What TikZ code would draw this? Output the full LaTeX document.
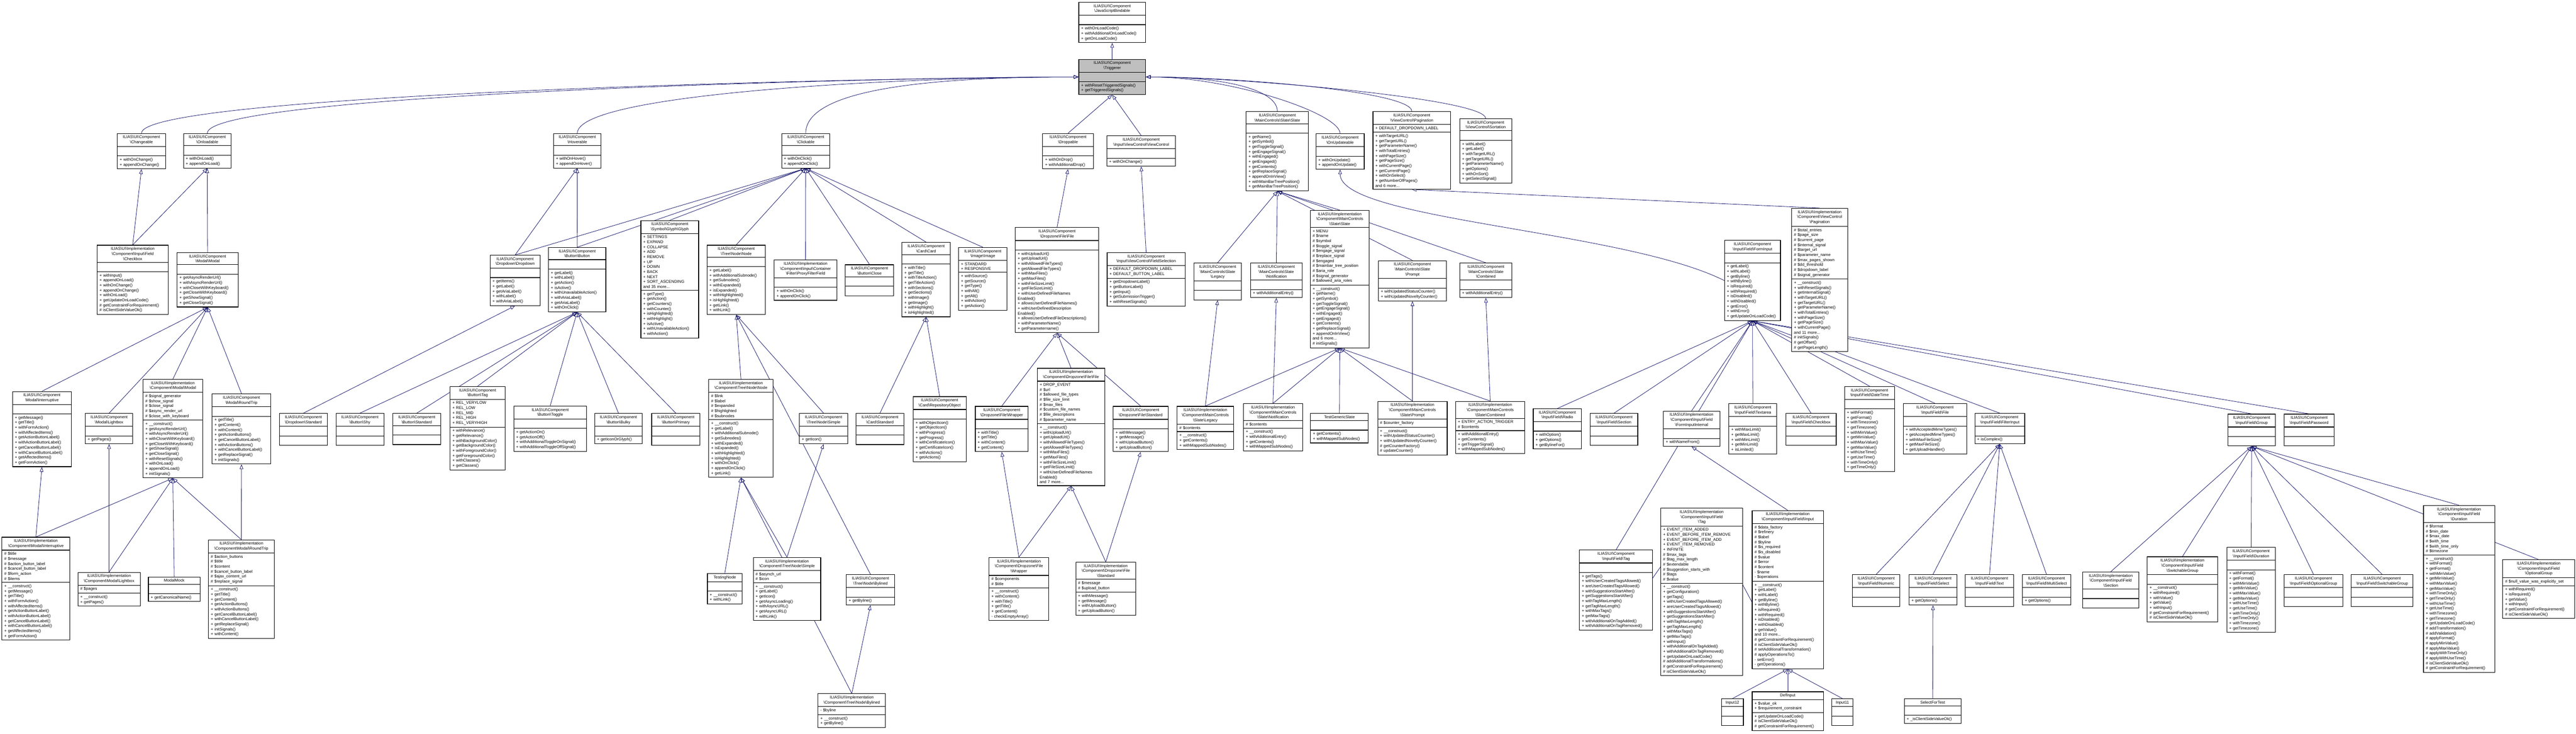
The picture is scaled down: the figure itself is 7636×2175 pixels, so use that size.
\documentclass[tikz,border=0pt]{standalone}
\usepackage{fontspec}
\setmainfont{Liberation Sans}
\usetikzlibrary{shapes.multipart,arrows.meta,backgrounds}
\definecolor{edge}{HTML}{191970}
\newcommand\bs{\textbackslash}
\newcommand\CC{ILIAS\bs UI\bs Component}
\newcommand\II{ILIAS\bs UI\bs Implementation}
\newcommand\E{\rule{0pt}{4.5pt}}
\tikzset{
 ub/.style={draw=black,line width=0.5pt,fill=white,rectangle split,rectangle split parts=3,
  inner xsep=2pt,inner ysep=1.5pt,align=left,font=\fontsize{3.4pt}{4.2pt}\selectfont},
 gray/.style={fill=black!25},
 inh/.style={draw=edge,line width=0.35pt,-{Triangle[open,length=4pt,width=3pt]}}
}
\newcommand\ub[8][]{\node[ub,#1,anchor=north west,text width=\dimexpr 0.01cm*#5-4pt\relax] (#2) at (#3,#4) {\centering #6\par\nodepart{two}#7\nodepart{three}#8};}
\begin{document}
\begin{tikzpicture}[x=0.01cm,y=-0.01cm]
\useasboundingbox (0,0) rectangle (7636,2175);
\begin{scope}[on background layer]
\fill[white] (0,0) rectangle (7636,2175);
\end{scope}
% top
\ub{jsb}{3197}{6}{198}{\CC\\\bs JavaScriptBindable}{\E}{+ withOnLoadCode()\\+ withAdditionalOnLoadCode()\\+ getOnLoadCode()}
\ub[gray]{trig}{3197}{175}{198}{\CC\\\bs Triggerer}{\E}{+ withResetTriggeredSignals()\\+ getTriggeredSignals()}
\ub{chg}{347}{395}{143}{\CC\\\bs Changeable}{\E}{+ withOnChange()\\+ appendOnChange()}
\ub{onl}{543}{395}{141}{\CC\\\bs Onloadable}{\E}{+ withOnLoad()\\+ appendOnLoad()}
\ub{hov}{1640}{395}{141}{\CC\\\bs Hoverable}{\E}{+ withOnHover()\\+ appendOnHover()}
\ub{clk}{2316}{395}{143}{\CC\\\bs Clickable}{\E}{+ withOnClick()\\+ appendOnClick()}
\ub{drp}{3090}{395}{150}{\CC\\\bs Droppable}{\E}{+ withOnDrop()\\+ withAdditionalDrop()}
\ub{ivc}{3280}{402}{204}{\CC\\\bs Input\bs ViewControl\bs ViewControl}{\E}{+ withOnChange()}
\ub{slate}{3693}{330}{185}{\CC\\\bs MainControls\bs Slate\bs Slate}{\E}{+ getName()\\+ getSymbol()\\+ getToggleSignal()\\+ getEngageSignal()\\+ withEngaged()\\+ getEngaged()\\+ getContents()\\+ getReplaceSignal()\\+ appendOnInView()\\+ withMainBarTreePosition()\\+ getMainBarTreePosition()}
\ub{onu}{3900}{396}{143}{\CC\\\bs OnUpdateable}{\E}{+ withOnUpdate()\\+ appendOnUpdate()}
\ub{pag}{4069}{330}{230}{\CC\\\bs ViewControl\bs Pagination}{+ DEFAULT\_DROPDOWN\_LABEL}{+ withTargetURL()\\+ getTargetURL()\\+ getParameterName()\\+ withTotalEntries()\\+ withPageSize()\\+ getPageSize()\\+ withCurrentPage()\\+ getCurrentPage()\\+ withOnSelect()\\+ getNumberOfPages()\\and 6 more...}
\ub{sort}{4326}{351}{154}{\CC\\\bs ViewControl\bs Sortation}{\E}{+ withLabel()\\+ getLabel()\\+ withTargetURL()\\+ getTargetURL()\\+ getParameterName()\\+ getOptions()\\+ withOnSort()\\+ getSelectSignal()}
% second row
\ub{ichk}{287}{726}{211}{\II\\\bs Component\bs Input\bs Field\\\bs Checkbox}{\E}{+ withInput()\\+ appendOnLoad()\\+ withOnChange()\\+ appendOnChange()\\+ withOnLoad()\\+ getUpdateOnLoadCode()\\\# getConstraintForRequirement()\\\# isClientSideValueOk()}
\ub{modal}{524}{748}{181}{\CC\\\bs Modal\bs Modal}{\E}{+ getAsyncRenderUrl()\\+ withAsyncRenderUrl()\\+ withCloseWithKeyboard()\\+ getCloseWithKeyboard()\\+ getShowSignal()\\+ getCloseSignal()}
\ub{dd}{1452}{756}{148}{\CC\\\bs Dropdown\bs Dropdown}{\E}{+ getItems()\\+ getLabel()\\+ getAriaLabel()\\+ withLabel()\\+ withAriaLabel()}
\ub{btn}{1625}{733}{170}{\CC\\\bs Button\bs Button}{\E}{+ getLabel()\\+ withLabel()\\+ getAction()\\+ isActive()\\+ withUnavailableAction()\\+ withAriaLabel()\\+ getAriaLabel()\\+ withOnClick()}
\ub{glyph}{1899}{653}{171}{\CC\\\bs Symbol\bs Glyph\bs Glyph}{+ SETTINGS\\+ EXPAND\\+ COLLAPSE\\+ ADD\\+ REMOVE\\+ UP\\+ DOWN\\+ BACK\\+ NEXT\\+ SORT\_ASCENDING\\and 35 more...}{+ getType()\\+ getAction()\\+ getCounters()\\+ withCounter()\\+ isHighlighted()\\+ withHighlight()\\+ isActive()\\+ withUnavailableAction()\\+ withAction()}
\ub{tnode}{2095}{726}{173}{\CC\\\bs Tree\bs Node\bs Node}{\E}{+ getLabel()\\+ withAdditionalSubnode()\\+ getSubnodes()\\+ withExpanded()\\+ isExpanded()\\+ withHighlighted()\\+ isHighlighted()\\+ getLink()\\+ withLink()}
\ub{pff}{2294}{770}{186}{\II\\\bs Component\bs Input\bs Container\\\bs Filter\bs ProxyFilterField}{\E}{+ withOnClick()\\+ appendOnClick()}
\ub{bclose}{2505}{784}{143}{\CC\\\bs Button\bs Close}{\E}{\E}
\ub{card}{2673}{718}{143}{\CC\\\bs Card\bs Card}{\E}{+ withTitle()\\+ getTitle()\\+ withTitleAction()\\+ getTitleAction()\\+ withSections()\\+ getSections()\\+ withImage()\\+ getImage()\\+ withHighlight()\\+ isHighlighted()}
\ub{img}{2841}{733}{143}{\CC\\\bs Image\bs Image}{+ STANDARD\\+ RESPONSIVE}{+ withSource()\\+ getSource()\\+ getType()\\+ withAlt()\\+ getAlt()\\+ withAction()\\+ getAction()}
\ub{dzf}{3009}{674}{247}{\CC\\\bs Dropzone\bs File\bs File}{\E}{+ withUploadUrl()\\+ getUploadUrl()\\+ withAllowedFileTypes()\\+ getAllowedFileTypes()\\+ withMaxFiles()\\+ getMaxFiles()\\+ withFileSizeLimit()\\+ getFileSizeLimit()\\+ withUserDefinedFileNames\\Enabled()\\+ allowsUserDefinedFileNames()\\+ withUserDefinedDescription\\Enabled()\\+ allowsUserDefinedFileDescriptions()\\+ withParameterName()\\+ getParametername()}
\ub{fsel}{3281}{748}{231}{\CC\\\bs Input\bs ViewControl\bs FieldSelection}{+ DEFAULT\_DROPDOWN\_LABEL\\+ DEFAULT\_BUTTON\_LABEL}{+ getDropdownLabel()\\+ getButtonLabel()\\+ getInput()\\+ getSubmissionTrigger()\\+ withResetSignals()}
\ub{islate}{3883}{623}{175}{\II\\\bs Component\bs MainControls\\\bs Slate\bs Slate}{+ MENU\\\# \$name\\\# \$symbol\\\# \$toggle\_signal\\\# \$engage\_signal\\\# \$replace\_signal\\\# \$engaged\\\# \$mainbar\_tree\_position\\\# \$aria\_role\\\# \$signal\_generator\\\# \$allowed\_aria\_roles}{+ \_\_construct()\\+ getName()\\+ getSymbol()\\+ getToggleSignal()\\+ getEngageSignal()\\+ withEngaged()\\+ getEngaged()\\+ getContents()\\+ getReplaceSignal()\\+ appendOnInView()\\and 6 more...\\\# initSignals()}
\ub{sleg}{3538}{779}{141}{\CC\\\bs MainControls\bs Slate\\\bs Legacy}{\E}{\E}
\ub{snot}{3706}{779}{153}{\CC\\\bs MainControls\bs Slate\\\bs Notification}{\E}{+ withAdditionalEntry()}
\ub{sprm}{4085}{772}{202}{\CC\\\bs MainControls\bs Slate\\\bs Prompt}{\E}{+ withUpdatedStatusCounter()\\+ withUpdatedNoveltyCounter()}
\ub{scmb}{4326}{779}{155}{\CC\\\bs MainControls\bs Slate\\\bs Combined}{\E}{+ withAdditionalEntry()}
\ub{fin}{5111}{712}{166}{\CC\\\bs Input\bs Field\bs FormInput}{\E}{+ getLabel()\\+ withLabel()\\+ getByline()\\+ withByline()\\+ isRequired()\\+ withRequired()\\+ isDisabled()\\+ withDisabled()\\+ getError()\\+ withError()\\+ getUpdateOnLoadCode()}
\ub{ipag}{5310}{617}{166}{\II\\\bs Component\bs ViewControl\\\bs Pagination}{\# \$total\_entries\\\# \$page\_size\\\# \$current\_page\\\# \$internal\_signal\\\# \$target\_url\\\# \$parameter\_name\\\# \$max\_pages\_shown\\\# \$dd\_threshold\\\# \$dropdown\_label\\\# \$signal\_generator}{+ \_\_construct()\\+ withResetSignals()\\+ getInternalSignal()\\+ withTargetURL()\\+ getTargetURL()\\+ getParameterName()\\+ withTotalEntries()\\+ withPageSize()\\+ getPageSize()\\+ withCurrentPage()\\and 11 more...\\\# initSignals()\\\# getOffset()\\\# getPageLength()}
% third row
\ub{iint}{36}{1160}{175}{\CC\\\bs Modal\bs Interruptive}{\E}{+ getMessage()\\+ getTitle()\\+ withFormAction()\\+ withAffectedItems()\\+ getActionButtonLabel()\\+ withActionButtonLabel()\\+ getCancelButtonLabel()\\+ withCancelButtonLabel()\\+ getAffectedItems()\\+ getFormAction()}
\ub{lbx}{252}{1225}{141}{\CC\\\bs Modal\bs Lightbox}{\E}{+ getPages()}
\ub{imodal}{423}{1124}{177}{\II\\\bs Component\bs Modal\bs Modal}{\# \$signal\_generator\\\# \$show\_signal\\\# \$close\_signal\\\# \$async\_render\_url\\\# \$close\_with\_keyboard}{+ \_\_construct()\\+ getAsyncRenderUrl()\\+ withAsyncRenderUrl()\\+ withCloseWithKeyboard()\\+ getCloseWithKeyboard()\\+ getShowSignal()\\+ getCloseSignal()\\+ withResetSignals()\\+ withOnLoad()\\+ appendOnLoad()\\+ initSignals()}
\ub{rtrip}{628}{1167}{174}{\CC\\\bs Modal\bs RoundTrip}{\E}{+ getTitle()\\+ getContent()\\+ withContent()\\+ getActionButtons()\\+ getCancelButtonLabel()\\+ withActionButtons()\\+ withCancelButtonLabel()\\+ getReplaceSignal()\\+ initSignals()}
\ub{ddstd}{827}{1225}{143}{\CC\\\bs Dropdown\bs Standard}{\E}{\E}
\ub{shy}{995}{1225}{142}{\CC\\\bs Button\bs Shy}{\E}{\E}
\ub{bstd}{1164}{1225}{141}{\CC\\\bs Button\bs Standard}{\E}{\E}
\ub{tag}{1333}{1145}{164}{\CC\\\bs Button\bs Tag}{+ REL\_VERYLOW\\+ REL\_LOW\\+ REL\_MID\\+ REL\_HIGH\\+ REL\_VERYHIGH}{+ withRelevance()\\+ getRelevance()\\+ withBackgroundColor()\\+ getBackgroundColor()\\+ withForegroundColor()\\+ getForegroundColor()\\+ withClasses()\\+ getClasses()}
\ub{tgl}{1522}{1203}{216}{\CC\\\bs Button\bs Toggle}{\E}{+ getActionOn()\\+ getActionOff()\\+ withAdditionalToggleOnSignal()\\+ withAdditionalToggleOffSignal()}
\ub{blk}{1762}{1225}{141}{\CC\\\bs Button\bs Bulky}{\E}{+ getIconOrGlyph()}
\ub{prim}{1931}{1225}{143}{\CC\\\bs Button\bs Primary}{\E}{\E}
\ub{inode}{2100}{1124}{191}{\II\\\bs Component\bs Tree\bs Node\bs Node}{\# \$link\\\# \$label\\\# \$expanded\\\# \$highlighted\\\# \$subnodes}{+ \_\_construct()\\+ getLabel()\\+ withAdditionalSubnode()\\+ getSubnodes()\\+ withExpanded()\\+ isExpanded()\\+ withHighlighted()\\+ isHighlighted()\\+ withOnClick()\\+ appendOnClick()\\+ getLink()}
\ub{tsim}{2369}{1225}{143}{\CC\\\bs Tree\bs Node\bs Simple}{\E}{+ getIcon()}
\ub{cstd}{2536}{1225}{143}{\CC\\\bs Card\bs Standard}{\E}{\E}
\ub{crep}{2706}{1175}{157}{\CC\\\bs Card\bs RepositoryObject}{\E}{+ withObjectIcon()\\+ getObjectIcon()\\+ withProgress()\\+ getProgress()\\+ withCertificateIcon()\\+ getCertificateIcon()\\+ withActions()\\+ getActions()}
\ub{dzw}{2890}{1204}{157}{\CC\\\bs Dropzone\bs File\bs Wrapper}{\E}{+ withTitle()\\+ getTitle()\\+ withContent()\\+ getContent()}
\ub{idzf}{3074}{1091}{200}{\II\\\bs Component\bs Dropzone\bs File\bs File}{+ DROP\_EVENT\\\# \$url\\\# \$allowed\_file\_types\\\# \$file\_size\_limit\\\# \$max\_files\\\# \$custom\_file\_names\\\# \$file\_descriptions\\\# \$parameter\_name}{+ \_\_construct()\\+ withUploadUrl()\\+ getUploadUrl()\\+ withAllowedFileTypes()\\+ getAllowedFileTypes()\\+ withMaxFiles()\\+ getMaxFiles()\\+ withFileSizeLimit()\\+ getFileSizeLimit()\\+ withUserDefinedFileNames\\Enabled()\\and 7 more...}
\ub{dzs}{3299}{1204}{163}{\CC\\\bs Dropzone\bs File\bs Standard}{\E}{+ withMessage()\\+ getMessage()\\+ withUploadButton()\\+ getUploadButton()}
\ub{ileg}{3488}{1204}{168}{\II\\\bs Component\bs MainControls\\\bs Slate\bs Legacy}{\# \$contents}{+ \_\_construct()\\+ getContents()\\+ withMappedSubNodes()}
\ub{inot}{3685}{1196}{175}{\II\\\bs Component\bs MainControls\\\bs Slate\bs Notification}{\# \$contents}{+ \_\_construct()\\+ withAdditionalEntry()\\+ getContents()\\+ withMappedSubNodes()}
\ub{tgs}{3884}{1225}{171}{TestGenericSlate}{\E}{+ getContents()\\+ withMappedSubNodes()}
\ub{iprm}{4083}{1189}{206}{\II\\\bs Component\bs MainControls\\\bs Slate\bs Prompt}{\# \$counter\_factory}{+ \_\_construct()\\+ withUpdatedStatusCounter()\\+ withUpdatedNoveltyCounter()\\\# getCounterFactory()\\\# updateCounter()}
\ub{icmb}{4314}{1189}{205}{\II\\\bs Component\bs MainControls\\\bs Slate\bs Combined}{+ ENTRY\_ACTION\_TRIGGER\\\# \$contents}{+ withAdditionalEntry()\\+ getContents()\\+ getTriggerSignal()\\+ withMappedSubNodes()}
\ub{radio}{4544}{1211}{143}{\CC\\\bs Input\bs Field\bs Radio}{\E}{+ withOption()\\+ getOptions()\\+ getBylineFor()}
\ub{sect}{4713}{1225}{141}{\CC\\\bs Input\bs Field\bs Section}{\E}{\E}
\ub{fii}{4930}{1218}{167}{\II\\\bs Component\bs Input\bs Field\\\bs FormInputInternal}{\E}{+ withNameFrom()}
\ub{txa}{5124}{1196}{142}{\CC\\\bs Input\bs Field\bs Textarea}{\E}{+ withMaxLimit()\\+ getMaxLimit()\\+ withMinLimit()\\+ getMinLimit()\\+ isLimited()}
\ub{fchk}{5293}{1225}{149}{\CC\\\bs Input\bs Field\bs Checkbox}{\E}{\E}
\ub{dtm}{5467}{1145}{148}{\CC\\\bs Input\bs Field\bs DateTime}{\E}{+ withFormat()\\+ getFormat()\\+ withTimezone()\\+ getTimezone()\\+ withMinValue()\\+ getMinValue()\\+ withMaxValue()\\+ getMaxValue()\\+ withUseTime()\\+ getUseTime()\\+ withTimeOnly()\\+ getTimeOnly()}
\ub{ffile}{5641}{1196}{188}{\CC\\\bs Input\bs Field\bs File}{\E}{+ withAcceptedMimeTypes()\\+ getAcceptedMimeTypes()\\+ withMaxFileSize()\\+ getMaxFileSize()\\+ getUploadHandler()}
\ub{flt}{5853}{1225}{148}{\CC\\\bs Input\bs Field\bs FilterInput}{\E}{+ isComplex()}
\ub{grp}{6603}{1227}{141}{\CC\\\bs Input\bs Field\bs Group}{\E}{\E}
\ub{pwd}{6770}{1227}{148}{\CC\\\bs Input\bs Field\bs Password}{\E}{\E}
% bottom rows
\ub{iiint}{5}{1592}{201}{\II\\\bs Component\bs Modal\bs Interruptive}{\# \$title\\\# \$message\\\# \$action\_button\_label\\\# \$cancel\_button\_label\\\# \$form\_action\\\# \$items}{+ \_\_construct()\\+ getMessage()\\+ getTitle()\\+ withFormAction()\\+ withAffectedItems()\\+ getActionButtonLabel()\\+ withActionButtonLabel()\\+ getCancelButtonLabel()\\+ withCancelButtonLabel()\\+ getAffectedItems()\\+ getFormAction()}
\ub{ilbx}{230}{1696}{185}{\II\\\bs Component\bs Modal\bs Lightbox}{\# \$pages}{+ \_\_construct()\\+ getPages()}
\ub{mock}{439}{1710}{153}{ModalMock}{\E}{+ getCanonicalName()}
\ub{irt}{617}{1600}{195}{\II\\\bs Component\bs Modal\bs RoundTrip}{\# \$action\_buttons\\\# \$title\\\# \$content\\\# \$cancel\_button\_label\\\# \$ajax\_content\_url\\\# \$replace\_signal}{+ \_\_construct()\\+ getTitle()\\+ getContent()\\+ getActionButtons()\\+ withActionButtons()\\+ getCancelButtonLabel()\\+ withCancelButtonLabel()\\+ getReplaceSignal()\\+ initSignals()\\+ withContent()}
\ub{tnd}{2096}{1700}{103}{TestingNode}{\E}{+ \_\_construct()\\+ withLink()}
\ub{isim}{2232}{1652}{200}{\II\\\bs Component\bs Tree\bs Node\bs Simple}{\# \$asynch\_url\\\# \$icon}{+ \_\_construct()\\+ getLabel()\\+ getIcon()\\+ getAsyncLoading()\\+ withAsyncURL()\\+ getAsyncURL()\\+ withLink()}
\ub{byl}{2508}{1703}{143}{\CC\\\bs Tree\bs Node\bs Bylined}{\E}{+ getByline()}
\ub{ibyl}{2424}{2056}{200}{\II\\\bs Component\bs Tree\bs Node\bs Bylined}{- \$byline}{+ \_\_construct()\\+ getByline()}
\ub{idzw}{2931}{1652}{177}{\II\\\bs Component\bs Dropzone\bs File\\\bs Wrapper}{\# \$components\\\# \$title}{+ \_\_construct()\\+ withContent()\\+ withTitle()\\+ getTitle()\\+ getContent()\\- checkEmptyArray()}
\ub{idzs}{3188}{1666}{178}{\II\\\bs Component\bs Dropzone\bs File\\\bs Standard}{\# \$message\\\# \$upload\_button}{+ withMessage()\\+ getMessage()\\+ withUploadButton()\\+ getUploadButton()}
\ub{ftag}{4681}{1630}{217}{\CC\\\bs Input\bs Field\bs Tag}{\E}{+ getTags()\\+ withUserCreatedTagsAllowed()\\+ areUserCreatedTagsAllowed()\\+ withSuggestionsStartAfter()\\+ getSuggestionsStartAfter()\\+ withTagMaxLength()\\+ getTagMaxLength()\\+ withMaxTags()\\+ getMaxTags()\\+ withAdditionalOnTagAdded()\\+ withAdditionalOnTagRemoved()}
\ub{iftag}{4922}{1506}{243}{\II\\\bs Component\bs Input\bs Field\\\bs Tag}{+ EVENT\_ITEM\_ADDED\\+ EVENT\_BEFORE\_ITEM\_REMOVE\\+ EVENT\_BEFORE\_ITEM\_ADD\\+ EVENT\_ITEM\_REMOVED\\+ INFINITE\\\# \$max\_tags\\\# \$tag\_max\_length\\\# \$extendable\\\# \$suggestion\_starts\_with\\\# \$tags\\\# \$value}{+ \_\_construct()\\+ getConfiguration()\\+ getTags()\\+ withUserCreatedTagsAllowed()\\+ areUserCreatedTagsAllowed()\\+ withSuggestionsStartAfter()\\+ getSuggestionsStartAfter()\\+ withTagMaxLength()\\+ getTagMaxLength()\\+ withMaxTags()\\+ getMaxTags()\\+ withInput()\\+ withAdditionalOnTagAdded()\\+ withAdditionalOnTagRemoved()\\+ getUpdateOnLoadCode()\\\# addAdditionalTransformations()\\\# getConstraintForRequirement()\\\# isClientSideValueOk()}
\ub{iinp}{5193}{1513}{211}{\II\\\bs Component\bs Input\bs Field\bs Input}{\# \$data\_factory\\\# \$refinery\\\# \$label\\\# \$byline\\\# \$is\_required\\\# \$is\_disabled\\\# \$value\\\# \$error\\\# \$content\\- \$name\\- \$operations}{+ \_\_construct()\\+ getLabel()\\+ withLabel()\\+ getByline()\\+ withByline()\\+ isRequired()\\+ withRequired()\\+ isDisabled()\\+ withDisabled()\\+ getValue()\\and 10 more...\\\# getConstraintForRequirement()\\\# isClientSideValueOk()\\\# setAdditionalTransformation()\\\# applyOperationsTo()\\- setError()\\- getOperations()}
\ub{in12}{5102}{2071}{65}{Input12}{\E}{\E}
\ub{defi}{5193}{2050}{211}{DefInput}{+ \$value\_ok\\+ \$requirement\_constraint}{+ getUpdateOnLoadCode()\\\# isClientSideValueOk()\\\# getConstraintForRequirement()}
\ub{in11}{5429}{2071}{63}{Input11}{\E}{\E}
\ub{num}{5490}{1703}{141}{\CC\\\bs Input\bs Field\bs Numeric}{\E}{\E}
\ub{sel}{5658}{1703}{142}{\CC\\\bs Input\bs Field\bs Select}{\E}{+ getOptions()}
\ub{txt}{5825}{1703}{143}{\CC\\\bs Input\bs Field\bs Text}{\E}{\E}
\ub{msel}{5994}{1703}{143}{\CC\\\bs Input\bs Field\bs MultiSelect}{\E}{+ getOptions()}
\ub{sft}{5644}{2071}{168}{SelectForTest}{\E}{+ \_isClientSideValueOk()}
\ub{isec}{6173}{1695}{166}{\II\\\bs Component\bs Input\bs Field\\\bs Section}{\E}{\E}
\ub{isg}{6364}{1650}{209}{\II\\\bs Component\bs Input\bs Field\\\bs SwitchableGroup}{\E}{+ \_\_construct()\\+ withRequired()\\+ withValue()\\+ getValue()\\+ withInput()\\\# getConstraintForRequirement()\\\# isClientSideValueOk()}
\ub{dur}{6600}{1622}{144}{\CC\\\bs Input\bs Field\bs Duration}{\E}{+ withFormat()\\+ getFormat()\\+ withMinValue()\\+ getMinValue()\\+ withMaxValue()\\+ getMaxValue()\\+ withUseTime()\\+ getUseTime()\\+ withTimeOnly()\\+ getTimeOnly()\\+ withTimezone()\\+ getTimezone()}
\ub{ogrp}{6770}{1703}{174}{\CC\\\bs Input\bs Field\bs OptionalGroup}{\E}{\E}
\ub{sgrp}{6969}{1703}{183}{\CC\\\bs Input\bs Field\bs SwitchableGroup}{\E}{\E}
\ub{idur}{7183}{1498}{211}{\II\\\bs Component\bs Input\bs Field\\\bs Duration}{\# \$format\\\# \$min\_date\\\# \$max\_date\\\# \$with\_time\\\# \$with\_time\_only\\\# \$timezone}{+ \_\_construct()\\+ withFormat()\\+ getFormat()\\+ withMinValue()\\+ getMinValue()\\+ withMaxValue()\\+ getMaxValue()\\+ withTimeOnly()\\+ getTimeOnly()\\+ withUseTime()\\+ getUseTime()\\+ withTimezone()\\+ getTimezone()\\+ getUpdateOnLoadCode()\\\# addTransformation()\\\# addValidation()\\\# applyFormat()\\\# applyMinValue()\\\# applyMaxValue()\\\# applyWithTimeOnly()\\\# applyWithUseTime()\\\# isClientSideValueOk()\\\# getConstraintForRequirement()}
\ub{iog}{7418}{1659}{213}{\II\\\bs Component\bs Input\bs Field\\\bs OptionalGroup}{\# \$null\_value\_was\_explicitly\_set}{+ withRequired()\\+ isRequired()\\+ getValue()\\+ withInput()\\\# getConstraintForRequirement()\\\# isClientSideValueOk()}
% edges
\begin{scope}[on background layer]
\draw[inh] (trig.north) -- (jsb.south);
\foreach \c in {chg,onl,hov,clk} \draw[inh] (\c.north) .. controls +(0,-120) and +(-500,0) .. (trig.west);
\foreach \c in {drp,ivc} \draw[inh] (\c.north) -- (trig.south);
\foreach \c in {slate,onu,pag,sort} \draw[inh] (\c.north) .. controls +(0,-60) and +(250,0) .. (trig.east);
\foreach \c/\p in {ichk/chg,ichk/onl,modal/onl,dd/hov,dd/clk,btn/hov,btn/clk,glyph/clk,tnode/clk,pff/clk,bclose/clk,card/clk,img/clk,dzf/drp,fsel/ivc,
 iint/modal,lbx/modal,rtrip/modal,imodal/modal,iiint/iint,iiint/imodal,ilbx/lbx,ilbx/imodal,mock/imodal,irt/rtrip,irt/imodal,
 ddstd/dd,shy/btn,bstd/btn,tag/btn,tgl/btn,blk/btn,prim/btn,
 inode/tnode,tsim/tnode,byl/tnode,tnd/inode,isim/inode,isim/tsim,ibyl/inode,ibyl/byl,
 cstd/card,crep/card,dzw/dzf,idzf/dzf,dzs/dzf,idzw/dzw,idzw/idzf,idzs/dzs,idzs/idzf,
 sleg/slate,snot/slate,islate/slate,sprm/slate,scmb/slate,ileg/sleg,ileg/islate,inot/snot,inot/islate,tgs/islate,iprm/sprm,iprm/islate,icmb/scmb,icmb/islate,
 ipag/pag,radio/fin,sect/fin,fii/fin,txa/fin,fchk/fin,dtm/fin,ffile/fin,flt/fin,grp/fin,pwd/fin,ftag/fin,
 iinp/fii,iftag/ftag,iftag/iinp,in12/iinp,defi/iinp,in11/iinp,num/flt,sel/flt,txt/flt,msel/flt,sft/sel,
 isec/grp,isg/grp,dur/grp,ogrp/grp,sgrp/grp,idur/grp,iog/grp}
 \draw[inh] (\c.north) -- (\p.south);
\draw[inh] (fin.west) .. controls +(-300,-150) and +(0,150) .. (onu.south);
\end{scope}
\end{tikzpicture}
\end{document}
